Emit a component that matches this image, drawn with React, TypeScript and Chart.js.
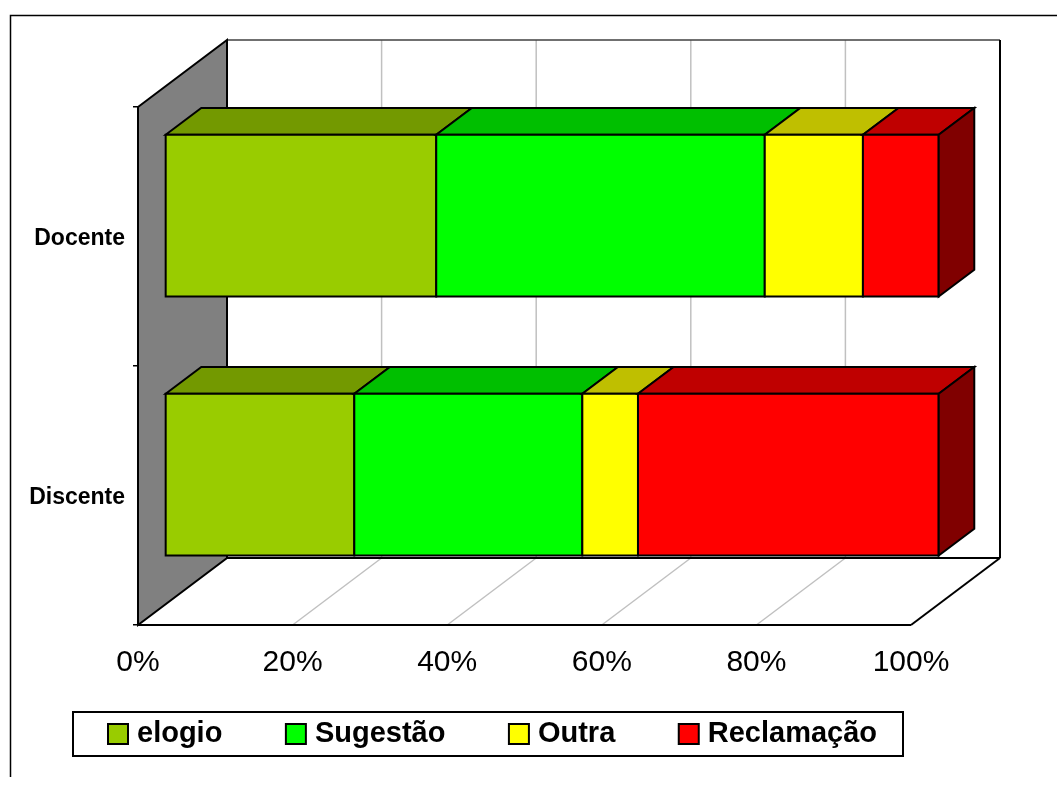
import React, { useEffect, useRef } from 'react';
import { Chart, registerables } from 'chart.js';

Chart.register(...registerables);

// ---- data ----
const categories = ['Docente', 'Discente'];
const seriesNames = ['elogio', 'Sugestão', 'Outra', 'Reclamação'];
const elogio = [35.0, 24.4];
const sugestao = [42.5, 29.5];
const outra = [12.7, 7.2];
const reclamacao = [9.8, 38.9];
const xTickValues = [0, 20, 40, 60, 80, 100];
const seriesColors = ['#99CC00', '#00FF00', '#FFFF00', '#FF0000'];

// ---- 3D style ----
const DEPTH_X = 89;
const DEPTH_Y = -67;
const BAR_FRONT = 0.311;
const BAR_BACK = 0.711;
const FONT = '"Liberation Sans", Arial, sans-serif';

function shade(hex: string, f: number): string {
  const n = parseInt(hex.slice(1), 16);
  const r = Math.round(((n >> 16) & 255) * f);
  const g = Math.round(((n >> 8) & 255) * f);
  const b = Math.round((n & 255) * f);
  return `rgb(${r},${g},${b})`;
}

function line(ctx: CanvasRenderingContext2D, x1: number, y1: number, x2: number, y2: number) {
  ctx.beginPath();
  ctx.moveTo(x1, y1);
  ctx.lineTo(x2, y2);
  ctx.stroke();
}

function poly(ctx: CanvasRenderingContext2D, pts: number[][], fill: string) {
  ctx.beginPath();
  ctx.moveTo(pts[0][0], pts[0][1]);
  for (let i = 1; i < pts.length; i++) ctx.lineTo(pts[i][0], pts[i][1]);
  ctx.closePath();
  ctx.fillStyle = fill;
  ctx.fill();
  ctx.stroke();
}

const threeDPlugin = {
  id: 'threeD',
  beforeDatasetsDraw(chart: any) {
    const ctx: CanvasRenderingContext2D = chart.ctx;
    const xs = chart.scales.x;
    const { left, right, top, bottom } = chart.chartArea;
    ctx.save();
    ctx.lineJoin = 'miter';

    // gridlines on back wall and floor
    ctx.strokeStyle = '#C0C0C0';
    ctx.lineWidth = 1.5;
    xTickValues.forEach((v) => {
      if (v <= xs.min || v >= xs.max) return;
      const px = xs.getPixelForValue(v);
      line(ctx, px + DEPTH_X, top + DEPTH_Y, px + DEPTH_X, bottom + DEPTH_Y);
      line(ctx, px, bottom, px + DEPTH_X, bottom + DEPTH_Y);
    });

    // back wall top edge
    ctx.strokeStyle = '#404040';
    ctx.lineWidth = 1.5;
    line(ctx, left + DEPTH_X, top + DEPTH_Y, right + DEPTH_X, top + DEPTH_Y);

    // floor outline and back wall right edge
    ctx.strokeStyle = '#000';
    ctx.lineWidth = 2;
    line(ctx, left, bottom, right, bottom);
    line(ctx, right, bottom, right + DEPTH_X, bottom + DEPTH_Y);
    line(ctx, left + DEPTH_X, bottom + DEPTH_Y, right + DEPTH_X, bottom + DEPTH_Y);
    line(ctx, right + DEPTH_X, top + DEPTH_Y, right + DEPTH_X, bottom + DEPTH_Y);

    // left wall
    poly(
      ctx,
      [
        [left, top],
        [left + DEPTH_X, top + DEPTH_Y],
        [left + DEPTH_X, bottom + DEPTH_Y],
        [left, bottom],
      ],
      '#808080'
    );

    // bars
    const fx = DEPTH_X * BAR_FRONT, fy = DEPTH_Y * BAR_FRONT;
    const bx = DEPTH_X * BAR_BACK, by = DEPTH_Y * BAR_BACK;
    const nData = chart.data.labels.length;
    const nSets = chart.data.datasets.length;
    ctx.lineWidth = 2;
    ctx.strokeStyle = '#000';
    for (let j = 0; j < nData; j++) {
      for (let i = 0; i < nSets; i++) {
        const meta = chart.getDatasetMeta(i);
        const el = meta.data[j];
        if (!el) continue;
        const p = el.getProps(['x', 'y', 'base', 'height'], true);
        const x0 = Math.min(p.base, p.x);
        const x1 = Math.max(p.base, p.x);
        const y0 = p.y - p.height / 2;
        const y1 = p.y + p.height / 2;
        const col = chart.data.datasets[i].backgroundColor as string;
        // top face
        poly(ctx, [
          [x0 + fx, y0 + fy],
          [x0 + bx, y0 + by],
          [x1 + bx, y0 + by],
          [x1 + fx, y0 + fy],
        ], shade(col, 0.75));
        // front face
        poly(ctx, [
          [x0 + fx, y0 + fy],
          [x1 + fx, y0 + fy],
          [x1 + fx, y1 + fy],
          [x0 + fx, y1 + fy],
        ], col);
        // right side face (last visible segment)
        if (i === nSets - 1) {
          poly(ctx, [
            [x1 + fx, y0 + fy],
            [x1 + bx, y0 + by],
            [x1 + bx, y1 + by],
            [x1 + fx, y1 + fy],
          ], shade(col, 0.5));
        }
      }
    }
    ctx.restore();
    return false;
  },
  afterDraw(chart: any) {
    const ctx: CanvasRenderingContext2D = chart.ctx;
    ctx.save();
    // outer frame
    ctx.strokeStyle = '#000';
    ctx.lineWidth = 1.5;
    ctx.beginPath();
    ctx.moveTo(10.5, 777);
    ctx.lineTo(10.5, 15.5);
    ctx.lineTo(1057, 15.5);
    ctx.stroke();

    // legend
    ctx.lineWidth = 2;
    ctx.fillStyle = '#fff';
    ctx.fillRect(73, 712, 830, 44);
    ctx.strokeRect(73, 712, 830, 44);
    ctx.font = `bold 29px ${FONT}`;
    ctx.textBaseline = 'middle';
    ctx.textAlign = 'left';
    let x = 108;
    const yMid = 734;
    chart.data.datasets.forEach((ds: any) => {
      ctx.fillStyle = ds.backgroundColor;
      ctx.fillRect(x, yMid - 10, 20, 20);
      ctx.lineWidth = 2;
      ctx.strokeStyle = '#000';
      ctx.strokeRect(x, yMid - 10, 20, 20);
      ctx.fillStyle = '#000';
      ctx.fillText(ds.label, x + 29, yMid);
      x += 29 + ctx.measureText(ds.label).width + 63.5;
    });
    ctx.restore();
  },
};

export default function App() {
  const ref = useRef<HTMLCanvasElement | null>(null);
  useEffect(() => {
    if (!ref.current) return;
    const values = [elogio, sugestao, outra, reclamacao];
    const chart = new Chart(ref.current, {
      type: 'bar',
      data: {
        labels: categories,
        datasets: seriesNames.map((name, i) => ({
          label: name,
          data: values[i],
          backgroundColor: seriesColors[i],
          borderColor: '#000',
          borderWidth: 0,
          barPercentage: 0.625,
          categoryPercentage: 1,
        })),
      },
      options: {
        indexAxis: 'y',
        responsive: false,
        animation: false,
        events: [],
        layout: { padding: { top: 107, right: 146, bottom: 0, left: 0 } },
        plugins: {
          legend: { display: false },
          tooltip: { enabled: false },
          title: { display: false },
        },
        scales: {
          x: {
            type: 'linear',
            stacked: true,
            min: 0,
            max: 100,
            afterFit: (s: any) => { s.height = 160; },
            afterBuildTicks: (s: any) => { s.ticks = xTickValues.map((v) => ({ value: v })); },
            ticks: {
              callback: (v: any) => `${v}%`,
              color: '#000',
              font: { family: FONT, size: 30 },
              padding: 20,
              maxRotation: 0,
              autoSkip: false,
            },
            grid: { display: false, drawTicks: false },
            border: { display: false },
          },
          y: {
            type: 'category',
            stacked: true,
            afterFit: (s: any) => { s.width = 138; },
            ticks: {
              color: '#000',
              font: { family: FONT, size: 23, weight: 'bold' },
              padding: 8,
              labelOffset: 2,
            },
            grid: {
              display: true,
              drawOnChartArea: false,
              drawTicks: true,
              tickLength: 5,
              offset: true,
              color: '#000',
              lineWidth: 1.5,
            },
            border: { display: false },
          },
        },
      },
      plugins: [threeDPlugin],
    } as any);
    return () => chart.destroy();
  }, []);
  return (
    <div style={{ position: 'fixed', left: 0, top: 0, width: 1057, height: 785, background: '#fff' }}>
      <canvas ref={ref} width={1057} height={785} style={{ display: 'block' }} />
    </div>
  );
}
